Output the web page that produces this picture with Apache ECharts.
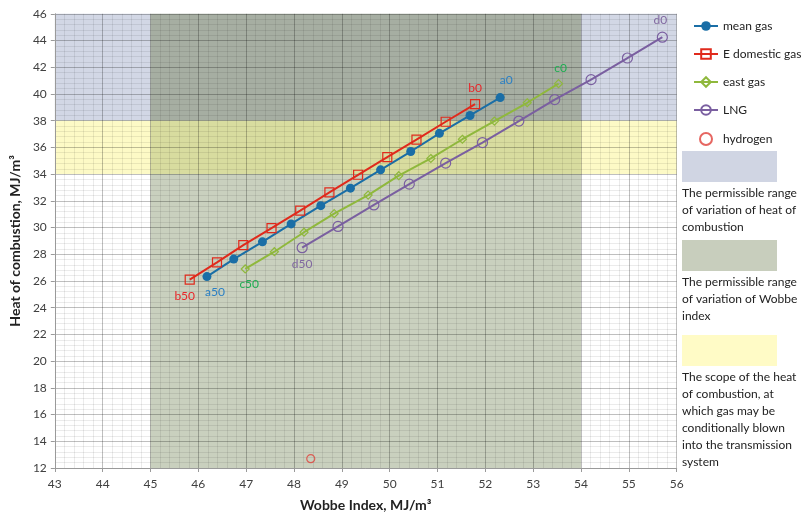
<!DOCTYPE html>
<html>
<head>
<meta charset="utf-8">
<script src="https://cdn.jsdelivr.net/npm/echarts@6/dist/echarts.min.js"></script>
<style>html,body{margin:0;padding:0;background:#fff}#c{width:803px;height:517px}</style>
</head>
<body>
<div id="c"></div>
<script>
// ---- data ----
const meanX = [46.18,46.74,47.34,47.94,48.56,49.18,49.81,50.44,51.04,51.68,52.31];
const meanY = [26.33,27.64,28.93,30.27,31.64,32.95,34.32,35.69,37.05,38.39,39.73];
const domX  = [45.82,46.39,46.94,47.53,48.13,48.74,49.34,49.95,50.56,51.17,51.785];
const domY  = [26.10,27.39,28.68,29.95,31.26,32.63,33.95,35.27,36.58,37.92,39.24];
const eastX = [46.98,47.59,48.21,48.84,49.55,50.19,50.86,51.52,52.19,52.875,53.53];
const eastY = [26.90,28.19,29.65,31.04,32.43,33.88,35.17,36.61,37.97,39.34,40.77];
const lngX  = [48.17,48.92,49.67,50.41,51.17,51.94,52.70,53.45,54.21,54.97,55.70];
const lngY  = [28.49,30.08,31.69,33.25,34.82,36.36,37.97,39.58,41.07,42.69,44.25];
const hydrogenX = [48.35];
const hydrogenY = [12.7];
const meanEnds = ['a50','a0'];
const domEnds  = ['b50','b0'];
const eastEnds = ['c50','c0'];
const lngEnds  = ['d50','d0'];
const seriesNames = ['mean gas','E domestic gas','east gas','LNG','hydrogen'];
const heatRange = [38, 46];        // permissible heat of combustion
const wobbeRange = [45, 54];       // permissible Wobbe index
const condRange = [34, 38];        // conditional heat of combustion
const xRange = [43, 56];
const yRange = [12, 46];
const legendTexts = [
  ['The permissible range','of variation of heat of','combustion'],
  ['The permissible range','of variation of Wobbe','index'],
  ['The scope of the heat','of combustion, at','which gas may be','conditionally blown','into the transmission','system']
];

const FONT = 'Lato, "Open Sans", sans-serif';

function build(xs, ys, ends, labColor, firstPos, lastPos) {
  return xs.map((x, i) => {
    const item = { value: [x, ys[i]] };
    if (i === 0 || i === xs.length - 1) {
      const p = i === 0 ? firstPos : lastPos;
      item.label = { show: true, formatter: i === 0 ? ends[0] : ends[1], color: labColor,
        fontSize: 12, fontFamily: FONT, position: p.pos, offset: p.off };
    }
    return item;
  });
}

const chart = echarts.init(document.getElementById('c'), null, { renderer: 'canvas' });

const G = { left: 52.7, right: 126.3, top: 13.8, bottom: 46.6 };

const areas = [
  [{ xAxis: xRange[0], yAxis: heatRange[0], itemStyle: { color: '#d2d7e5' } }, { xAxis: wobbeRange[0], yAxis: heatRange[1] }],
  [{ xAxis: wobbeRange[1], yAxis: heatRange[0], itemStyle: { color: '#d2d7e5' } }, { xAxis: xRange[1], yAxis: heatRange[1] }],
  [{ xAxis: wobbeRange[0], yAxis: heatRange[0], itemStyle: { color: '#a6aea2' } }, { xAxis: wobbeRange[1], yAxis: heatRange[1] }],
  [{ xAxis: xRange[0], yAxis: condRange[0], itemStyle: { color: '#fdfac6' } }, { xAxis: wobbeRange[0], yAxis: condRange[1] }],
  [{ xAxis: wobbeRange[1], yAxis: condRange[0], itemStyle: { color: '#fdfac6' } }, { xAxis: xRange[1], yAxis: condRange[1] }],
  [{ xAxis: wobbeRange[0], yAxis: condRange[0], itemStyle: { color: '#d8dc9f' } }, { xAxis: wobbeRange[1], yAxis: condRange[1] }],
  [{ xAxis: wobbeRange[0], yAxis: yRange[0], itemStyle: { color: '#c9d0be' } }, { xAxis: wobbeRange[1], yAxis: condRange[0] }]
];

const graphics = [];
const swatchColors = ['#d0d5e3', '#c8cebd', '#fffbc6'];
const swatchTops = [151, 240, 335];
swatchColors.forEach((c, k) => {
  graphics.push({ type: 'rect', left: 682, top: swatchTops[k], shape: { width: 95, height: 31 }, style: { fill: c }, silent: true });
  legendTexts[k].forEach((t, j) => {
    graphics.push({ type: 'text', left: 682, top: swatchTops[k] + 36 + j * 17,
      style: { text: t, fontSize: 12, fontFamily: FONT, fill: '#222' }, silent: true });
  });
});

const option = {
  animation: false,
  backgroundColor: '#fff',
  grid: G,
  legend: {
    orient: 'vertical', left: 688, top: 15, itemWidth: 24, itemHeight: 12, itemGap: 16,
    textStyle: { fontSize: 12, fontFamily: FONT, color: '#222' },
    data: seriesNames
  },
  graphic: graphics,
  xAxis: {
    type: 'value', min: xRange[0], max: xRange[1], interval: 1,
    name: 'Wobbe Index, MJ/m³', nameLocation: 'middle', nameGap: 30,
    nameTextStyle: { fontSize: 14, fontWeight: 'bold', fontFamily: FONT, color: '#222' },
    axisLine: { lineStyle: { color: '#9a9a9a' } },
    axisTick: { show: true, length: 4, lineStyle: { color: '#9a9a9a' } },
    axisLabel: { fontSize: 12, fontFamily: FONT, color: '#404040', margin: 10 },
    splitLine: { show: true, lineStyle: { color: 'rgba(0,0,0,0.25)', width: 1 } },
    minorTick: { show: false, splitNumber: 5 },
    minorSplitLine: { show: true, lineStyle: { color: 'rgba(0,0,0,0.08)', width: 1 } }
  },
  yAxis: {
    type: 'value', min: yRange[0], max: yRange[1], interval: 2,
    name: 'Heat of combustion, MJ/m³', nameLocation: 'middle', nameGap: 32, nameRotate: 90,
    nameTextStyle: { fontSize: 14, fontWeight: 'bold', fontFamily: FONT, color: '#222' },
    axisLine: { show: true, lineStyle: { color: '#9a9a9a' } },
    axisTick: { show: true, length: 4, lineStyle: { color: '#9a9a9a' } },
    axisLabel: { fontSize: 12, fontFamily: FONT, color: '#404040', margin: 8 },
    splitLine: { show: true, lineStyle: { color: 'rgba(0,0,0,0.25)', width: 1 } },
    minorTick: { show: false, splitNumber: 5 },
    minorSplitLine: { show: true, lineStyle: { color: 'rgba(0,0,0,0.08)', width: 1 } }
  },
  series: [
    {
      name: '__regions', type: 'line', data: [], z: -1, silent: true,
      markArea: { silent: true, z: -1, data: areas, itemStyle: { opacity: 1 } }
    },
    {
      name: seriesNames[0], type: 'line', z: 5,
      data: build(meanX, meanY, meanEnds, '#2a7fc4', { pos: 'bottom', off: [8, 0] }, { pos: 'top', off: [6, -2] }),
      symbol: 'circle', symbolSize: 9, color: '#1a6ea6',
      lineStyle: { width: 2, color: '#1a6ea6' }, itemStyle: { color: '#1a6ea6' }
    },
    {
      name: seriesNames[1], type: 'line', z: 5,
      data: build(domX, domY, domEnds, '#e8262a', { pos: 'bottom', off: [-5, 0] }, { pos: 'top', off: [0, 0] }),
      symbol: 'rect', symbolSize: 9, color: '#e02a1c',
      lineStyle: { width: 2, color: '#e02a1c' },
      itemStyle: { color: 'rgba(0,0,0,0)', borderColor: '#e02a1c', borderWidth: 1.2 }
    },
    {
      name: seriesNames[2], type: 'line', z: 5,
      data: build(eastX, eastY, eastEnds, '#1fae52', { pos: 'bottom', off: [4, 0] }, { pos: 'top', off: [2, 0] }),
      symbol: 'diamond', symbolSize: 8, color: '#8fb83c',
      lineStyle: { width: 2, color: '#8fb83c' },
      itemStyle: { color: 'rgba(0,0,0,0)', borderColor: '#8fb83c', borderWidth: 1.2 }
    },
    {
      name: seriesNames[3], type: 'line', z: 5,
      data: build(lngX, lngY, lngEnds, '#8068a0', { pos: 'bottom', off: [0, 0] }, { pos: 'top', off: [-2, 0] }),
      symbol: 'circle', symbolSize: 10, color: '#7a5fa0',
      lineStyle: { width: 2, color: '#7a5fa0' },
      itemStyle: { color: 'rgba(0,0,0,0)', borderColor: '#7a5fa0', borderWidth: 1.2 }
    },
    {
      name: seriesNames[4], type: 'scatter', z: 5,
      data: hydrogenX.map((x, i) => [x, hydrogenY[i]]),
      symbol: 'circle', symbolSize: 8, color: '#e0403a',
      itemStyle: { color: 'rgba(0,0,0,0)', borderColor: '#e0403a', borderWidth: 1.2 }
    }
  ]
};
chart.setOption(option);
</script>
</body>
</html>
